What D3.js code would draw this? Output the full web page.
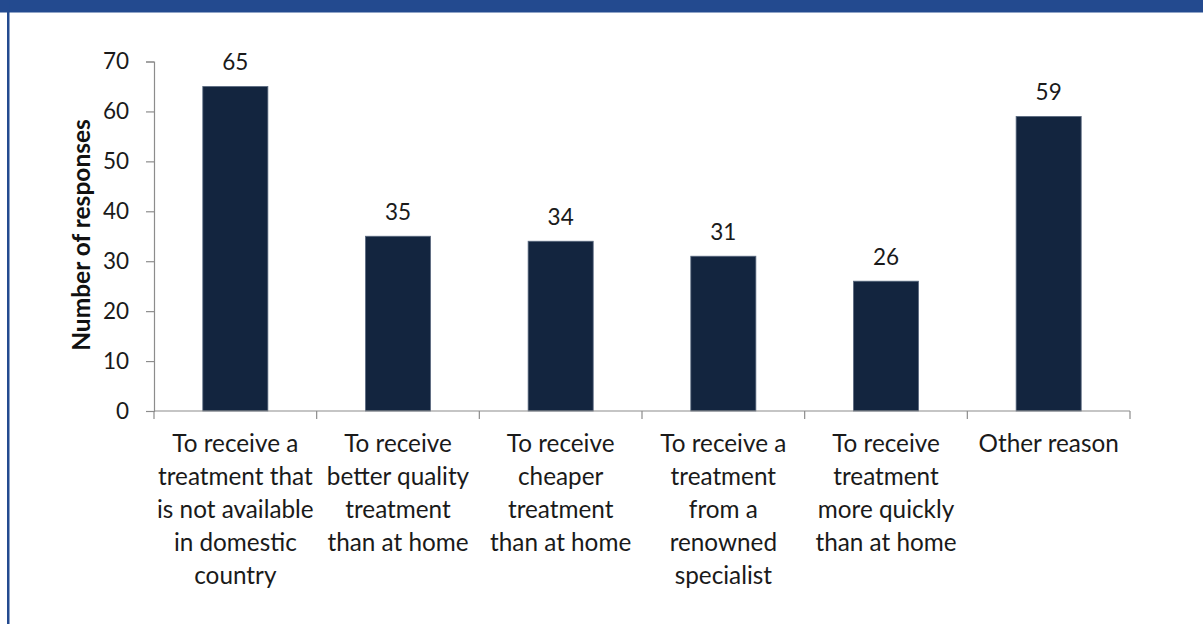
<!DOCTYPE html>
<html><head><meta charset="utf-8">
<script src="https://cdn.jsdelivr.net/npm/d3@7"></script>
<style>
html,body{margin:0;padding:0;background:#fff;}
svg{display:block;}
</style></head>
<body>
<svg id="chart" width="1203" height="624"></svg>
<script>
const categories = [
  ["To receive a","treatment that","is not available","in domestic","country"],
  ["To receive","better quality","treatment","than at home"],
  ["To receive","cheaper","treatment","than at home"],
  ["To receive a","treatment","from a","renowned","specialist"],
  ["To receive","treatment","more quickly","than at home"],
  ["Other reason"]
];
const values = [65, 35, 34, 31, 26, 59];
const yTicks = [0, 10, 20, 30, 40, 50, 60, 70];
const yTitle = "Number of responses";

const FONT = "Lato, 'Open Sans', sans-serif";
const svg = d3.select("#chart");
const W = 1203, H = 624;
const m = {left:154, right:1130, top:61.5, bottom:411};

// frame
svg.append("rect").attr("x",0).attr("y",0).attr("width",W).attr("height",12.5).attr("fill","#234a8f");
svg.append("rect").attr("x",7).attr("y",0).attr("width",2.5).attr("height",H).attr("fill","#234a8f");

const ids = categories.map((d,i)=>i);
const x = d3.scaleBand().domain(ids).range([m.left, m.right]).paddingInner(0.6).paddingOuter(0.3);
const y = d3.scaleLinear().domain([0,70]).range([m.bottom, m.top]);

// bars
svg.append("g").selectAll("rect").data(values).join("rect")
  .attr("x",(d,i)=>x(i)).attr("width",x.bandwidth())
  .attr("y",d=>y(d)).attr("height",d=>y(0)-y(d))
  .attr("fill","#13253f").attr("stroke","#5a6a80").attr("stroke-width",0.8);

// y axis
const yAxis = d3.axisLeft(y).tickValues(yTicks).tickSize(8).tickPadding(17).tickFormat(d3.format("d"));
const gy = svg.append("g").attr("transform",`translate(${m.left},0)`).call(yAxis);
gy.select(".domain").attr("stroke","#8c8c8c").attr("stroke-width",1.2);
gy.selectAll(".tick line").attr("stroke","#8c8c8c").attr("stroke-width",1.2);
gy.selectAll(".tick text").attr("font-family",FONT).attr("font-size",22.5).attr("fill","#1a1a1a");

// x axis line with tick marks at category boundaries
const bounds = d3.range(categories.length+1).map(i => m.left + i*(m.right-m.left)/categories.length);
const gx = svg.append("g");
gx.append("line").attr("x1",m.left).attr("x2",m.right).attr("y1",m.bottom).attr("y2",m.bottom)
  .attr("stroke","#8c8c8c").attr("stroke-width",1.2);
gx.selectAll("line.t").data(bounds).join("line").attr("class","t")
  .attr("x1",d=>d).attr("x2",d=>d).attr("y1",m.bottom).attr("y2",m.bottom+8)
  .attr("stroke","#8c8c8c").attr("stroke-width",1.2);

// category labels
const lab = svg.append("g").attr("font-family",FONT).attr("font-size",24.3).attr("fill","#1a1a1a").attr("text-anchor","middle");
categories.forEach((lines,i)=>{
  const cx = x(i)+x.bandwidth()/2;
  const t = lab.append("text").attr("x",cx).attr("y",452);
  lines.forEach((ln,j)=>{
    t.append("tspan").attr("x",cx).attr("y",452+j*33).text(ln);
  });
});

// value labels
svg.append("g").attr("font-family",FONT).attr("font-size",22.5).attr("fill","#1a1a1a").attr("text-anchor","middle")
  .selectAll("text").data(values).join("text")
  .attr("x",(d,i)=>x(i)+x.bandwidth()/2).attr("y",d=>y(d)-16).text(d=>d);

// y title
svg.append("text").attr("transform","translate(90,235) rotate(-90)")
  .attr("text-anchor","middle").attr("font-family",FONT).attr("font-weight","bold")
  .attr("font-size",24.5).attr("fill","#111").text(yTitle);
</script>
</body></html>
